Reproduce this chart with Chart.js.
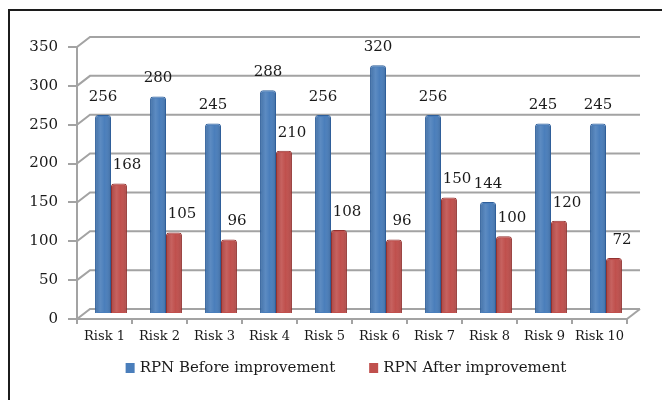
<!DOCTYPE html>
<html>
<head>
<meta charset="utf-8">
<script src="https://cdn.jsdelivr.net/npm/chart.js@4.4.1/dist/chart.umd.min.js"></script>
<style>
  html, body { margin: 0; padding: 0; background: #fff; }
  #wrap { position: relative; width: 662px; height: 400px; overflow: hidden; }
  #marco { position: absolute; left: 8px; top: 9px; width: 700px; height: 450px; border: 2px solid #1c1c1c; }
  canvas { position: absolute; left: 0; top: 0; }
</style>
</head>
<body>
<div id="wrap">
  <div id="marco"></div>
  <canvas id="graficoRiesgos" width="662" height="400"></canvas>
</div>
<script>
const categorias = ['Risk 1', 'Risk 2', 'Risk 3', 'Risk 4', 'Risk 5', 'Risk 6', 'Risk 7', 'Risk 8', 'Risk 9', 'Risk 10'];
const rpnAntes = [256, 280, 245, 288, 256, 320, 256, 144, 245, 245];
const rpnDespues = [168, 105, 96, 210, 108, 96, 150, 100, 120, 72];
const ticksY = [0, 50, 100, 150, 200, 250, 300, 350];

const FUENTE = 'DejaVu Serif';
const TEXTO = '#1a1a1a';
const GRIS = '#a3a3a3';
// profundidad del efecto 3D
const DX = 13, DY = -10;

// paredes, rejilla del fondo y desplazamiento de las barras
const efecto3d = {
  id: 'efecto3d',
  beforeDatasetsDraw(chart) {
    const { ctx, chartArea: a, scales: { y } } = chart;
    ctx.save();
    ctx.strokeStyle = GRIS;
    ctx.lineWidth = 2;
    y.ticks.forEach(t => {
      const py = y.getPixelForValue(t.value);
      ctx.beginPath();
      ctx.moveTo(a.left, py);
      ctx.lineTo(a.left + DX, py + DY);
      ctx.lineTo(a.right + DX, py + DY);
      ctx.stroke();
    });
    ctx.beginPath();
    ctx.moveTo(a.right, a.bottom);
    ctx.lineTo(a.right + DX, a.bottom + DY);
    ctx.stroke();
    ctx.restore();

    ctx.save();
    ctx.translate(DX / 2, DY / 2);
  },
  afterDatasetsDraw(chart) {
    const { ctx } = chart;
    chart.data.datasets.forEach((ds, i) => {
      const meta = chart.getDatasetMeta(i);
      meta.data.forEach((bar, j) => {
        const w = bar.width;
        const x0 = bar.x - w / 2;
        const g = ctx.createLinearGradient(x0, 0, x0 + w, 0);
        g.addColorStop(0, 'rgba(0,0,0,0.12)');
        g.addColorStop(0.35, 'rgba(255,255,255,0.10)');
        g.addColorStop(0.6, 'rgba(255,255,255,0.0)');
        g.addColorStop(1, 'rgba(0,0,0,0.14)');
        ctx.fillStyle = g;
        ctx.fillRect(x0 + 1, bar.y + 2, w - 2, bar.base - bar.y - 3);

        ctx.fillStyle = TEXTO;
        ctx.font = '15px "' + FUENTE + '"';
        ctx.textAlign = 'center';
        ctx.textBaseline = 'middle';
        const desplaz = i === 1 ? 8 : 0;
        ctx.fillText(String(ds.data[j]), bar.x + desplaz, bar.y - 18);
      });
    });
    ctx.restore();
  },
  afterDraw(chart) {
    // leyenda
    const { ctx } = chart;
    ctx.save();
    ctx.font = '15px "' + FUENTE + '"';
    ctx.textBaseline = 'middle';
    ctx.textAlign = 'left';
    const caja = 9, hueco = 5, sep = 34;
    const anchos = chart.data.datasets.map(ds => caja + hueco + ctx.measureText(ds.label).width);
    const total = anchos.reduce((s, v) => s + v, 0) + sep * (anchos.length - 1);
    let x = 346 - total / 2;
    const yL = 368;
    chart.data.datasets.forEach((ds, i) => {
      ctx.fillStyle = ds.backgroundColor;
      ctx.fillRect(x, yL - 5, caja, 10);
      ctx.fillStyle = TEXTO;
      ctx.fillText(ds.label, x + caja + hueco, yL);
      x += anchos[i] + sep;
    });
    ctx.restore();
  }
};

const ctx = document.getElementById('graficoRiesgos').getContext('2d');
new Chart(ctx, {
  type: 'bar',
  data: {
    labels: categorias,
    datasets: [{
      label: 'RPN Before improvement',
      data: rpnAntes,
      backgroundColor: '#4a7ebb',
      borderColor: '#2f5f9a',
      borderWidth: 1,
      borderRadius: 3,
      borderSkipped: 'start'
    }, {
      label: 'RPN After improvement',
      data: rpnDespues,
      backgroundColor: '#c0504d',
      borderColor: '#923230',
      borderWidth: 1,
      borderRadius: 3,
      borderSkipped: 'start'
    }]
  },
  options: {
    responsive: false,
    animation: false,
    categoryPercentage: 0.58,
    barPercentage: 1,
    layout: { padding: { left: 0, right: 35, top: 47, bottom: 51 } },
    scales: {
      x: {
        afterFit: s => { s.height = 30; },
        grid: { drawOnChartArea: false, drawTicks: true, tickLength: 5, color: GRIS, lineWidth: 2 },
        border: { display: true, color: GRIS, width: 2 },
        ticks: { color: TEXTO, padding: 5, font: { family: FUENTE, size: 13 }, maxRotation: 0 }
      },
      y: {
        min: ticksY[0],
        max: ticksY[ticksY.length - 1],
        afterFit: s => { s.width = 77; },
        afterBuildTicks: s => { s.ticks = ticksY.map(v => ({ value: v })); },
        grid: { drawOnChartArea: false, drawTicks: true, tickLength: 9, color: GRIS, lineWidth: 2 },
        border: { display: true, color: GRIS, width: 2 },
        ticks: { color: TEXTO, padding: 10, font: { family: FUENTE, size: 15 } }
      }
    },
    plugins: {
      legend: { display: false },
      tooltip: { enabled: false }
    }
  },
  plugins: [efecto3d]
});
</script>
</body>
</html>
